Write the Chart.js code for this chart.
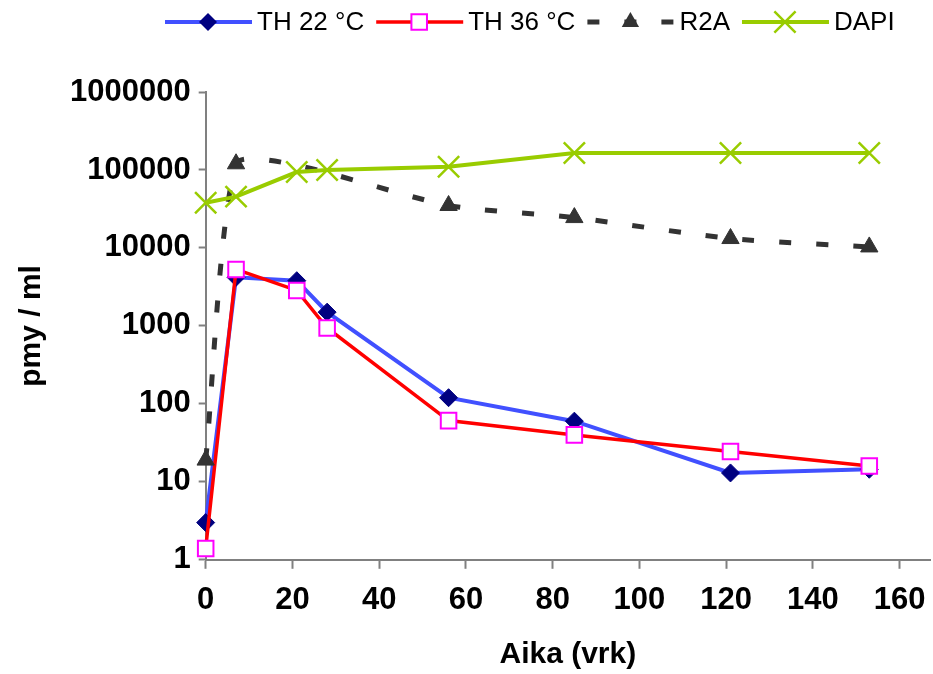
<!DOCTYPE html>
<html>
<head>
<meta charset="utf-8">
<script src="https://cdn.jsdelivr.net/npm/chart.js@4/dist/chart.umd.min.js"></script>
<style>
  html, body { margin: 0; padding: 0; background: #fff; }
  #wrap { width: 933px; height: 674px; }
</style>
</head>
<body>
<div id="wrap"><canvas id="bacteriaChart"></canvas></div>
<script>
// sampling days and counts (pmy / ml)
const days = [0, 7, 21, 28, 56, 85, 121, 153];
const th22 = [3, 4200, 3800, 1500, 120, 60, 13, 14.5];
const th36 = [1.4, 5300, 2850, 940, 61, 40, 24.5, 16];
const r2aDays = [0, 7, 21, 56, 85, 121, 153];
const r2a = [19, 120000, 115000, 35000, 24500, 13200, 10300];
const dapi = [38000, 45500, 94000, 100000, 110000, 165000, 165000, 165000];
const xTicks = [0, 20, 40, 60, 80, 100, 120, 140, 160];
const yTicks = [1, 10, 100, 1000, 10000, 100000, 1000000];
const names = ['TH 22 °C', 'TH 36 °C', 'R2A', 'DAPI'];

const FONT = "'Liberation Sans', Arial, sans-serif";

function toPoints(xs, ys) {
    return xs.map(function(x, i) { return { x: x, y: ys[i] }; });
}

function drawMarker(ctx, ds, x, y) {
    const r = ds.pointRadius;
    ctx.save();
    ctx.setLineDash([]);
    ctx.fillStyle = ds.pointBackgroundColor;
    ctx.strokeStyle = ds.pointBorderColor;
    ctx.lineWidth = ds.pointBorderWidth;
    ctx.beginPath();
    if (ds.pointStyle === 'rectRot') {
        ctx.moveTo(x, y - r); ctx.lineTo(x + r, y); ctx.lineTo(x, y + r); ctx.lineTo(x - r, y);
        ctx.closePath(); ctx.fill();
    } else if (ds.pointStyle === 'rect') {
        const s = r * Math.SQRT1_2;
        ctx.rect(x - s, y - s, 2 * s, 2 * s); ctx.fill(); ctx.stroke();
    } else if (ds.pointStyle === 'triangle') {
        ctx.moveTo(x, y - r); ctx.lineTo(x + r * 0.866, y + r / 2); ctx.lineTo(x - r * 0.866, y + r / 2);
        ctx.closePath(); ctx.fill();
    } else {
        const s = r * Math.SQRT1_2;
        ctx.moveTo(x - s, y - s); ctx.lineTo(x + s, y + s);
        ctx.moveTo(x + s, y - s); ctx.lineTo(x - s, y + s);
        ctx.stroke();
    }
    ctx.restore();
}

// Excel-style legend: short line with marker in the middle, then the name
const lineLegend = {
    id: 'lineLegend',
    afterDraw: function(chart) {
        const ctx = chart.ctx;
        const y = 22;
        let x = 165;
        ctx.save();
        ctx.font = '26px ' + FONT;
        ctx.textBaseline = 'middle';
        ctx.fillStyle = '#000';
        names.forEach(function(name) {
            const ds = chart.data.datasets.find(function(d) { return d.label === name; });
            ctx.save();
            ctx.strokeStyle = ds.borderColor;
            ctx.lineWidth = ds.borderWidth;
            ctx.setLineDash(ds.borderDash || []);
            ctx.beginPath();
            ctx.moveTo(x, y);
            ctx.lineTo(x + 87, y);
            ctx.stroke();
            ctx.restore();
            drawMarker(ctx, { pointRadius: ds.legendRadius, pointStyle: ds.pointStyle,
                pointBackgroundColor: ds.pointBackgroundColor, pointBorderColor: ds.pointBorderColor,
                pointBorderWidth: ds.pointBorderWidth }, x + 43, y);
            ctx.fillText(name, x + 92, y + 1);
            x += 92 + ctx.measureText(name).width + 12;
        });
        ctx.restore();
    }
};

document.addEventListener('DOMContentLoaded', function() {
    const ctx = document.getElementById('bacteriaChart').getContext('2d');
    const chart = new Chart(ctx, {
        type: 'line',
        data: {
            datasets: [{
                label: 'TH 22 °C',
                data: toPoints(days, th22),
                borderColor: '#4150ff',
                borderWidth: 4,
                pointStyle: 'rectRot',
                pointRadius: 9,
                legendRadius: 9,
                pointBackgroundColor: '#000080',
                pointBorderColor: '#000080',
                pointBorderWidth: 1,
                tension: 0,
                clip: false,
                order: 3
            }, {
                label: 'TH 36 °C',
                data: toPoints(days, th36),
                borderColor: '#ff0000',
                borderWidth: 3.5,
                pointStyle: 'rect',
                pointRadius: 11,
                legendRadius: 11,
                pointBackgroundColor: '#ffffff',
                pointBorderColor: '#ff00ff',
                pointBorderWidth: 2,
                tension: 0,
                clip: false,
                order: 2
            }, {
                label: 'R2A',
                data: toPoints(r2aDays, r2a),
                borderColor: '#333333',
                borderWidth: 5,
                borderDash: [12, 25],
                pointStyle: 'triangle',
                // the day-21 marker sits hidden under the DAPI cross in the original
                pointRadius: function(c) { return c.raw && c.raw.x === 21 ? 0 : 10; },
                legendRadius: 10,
                pointBackgroundColor: '#333333',
                pointBorderColor: '#333333',
                pointBorderWidth: 1,
                tension: 0.22,
                clip: false,
                order: 1
            }, {
                label: 'DAPI',
                data: toPoints(days, dapi),
                borderColor: '#99cc00',
                borderWidth: 4,
                pointStyle: 'crossRot',
                pointRadius: 15,
                legendRadius: 15,
                pointBackgroundColor: '#99cc00',
                pointBorderColor: '#99cc00',
                pointBorderWidth: 2.5,
                tension: 0,
                clip: false,
                order: 0
            }]
        },
        options: {
            responsive: true,
            maintainAspectRatio: false,
            animation: false,
            layout: {
                autoPadding: false,
                padding: { top: 92, right: 3, left: 14, bottom: 1 }
            },
            scales: {
                x: {
                    type: 'linear',
                    min: 0,
                    max: 167,
                    afterBuildTicks: function(s) {
                        s.ticks = xTicks.map(function(v) { return { value: v }; });
                    },
                    // axis runs on past the last label, so no room is needed for it
                    afterFit: function(s) { s.paddingRight = 0; },
                    ticks: {
                        font: { family: FONT, size: 31, weight: 'bold' },
                        color: '#000',
                        padding: 13,
                        maxRotation: 0
                    },
                    grid: {
                        display: true,
                        drawOnChartArea: false,
                        tickLength: 9,
                        tickColor: '#808080',
                        tickWidth: 2
                    },
                    border: { display: true, color: '#808080', width: 2 },
                    title: {
                        display: true,
                        text: 'Aika (vrk)',
                        font: { family: FONT, size: 30, weight: 'bold' },
                        color: '#000',
                        padding: { top: 5, bottom: 0 }
                    }
                },
                y: {
                    type: 'logarithmic',
                    min: 1,
                    max: 1000000,
                    afterBuildTicks: function(s) {
                        s.ticks = yTicks.map(function(v) { return { value: v }; });
                    },
                    ticks: {
                        font: { family: FONT, size: 31, weight: 'bold' },
                        color: '#000',
                        padding: 8,
                        callback: function(v) { return String(v); }
                    },
                    grid: {
                        display: true,
                        drawOnChartArea: false,
                        tickLength: 7,
                        tickColor: '#808080',
                        tickWidth: 2
                    },
                    border: { display: true, color: '#808080', width: 2 },
                    title: {
                        display: true,
                        text: 'pmy / ml',
                        font: { family: FONT, size: 30, weight: 'bold' },
                        color: '#000',
                        padding: { top: 0, bottom: 12 }
                    }
                }
            },
            plugins: {
                legend: { display: false },
                tooltip: { enabled: false }
            }
        },
        plugins: [lineLegend]
    });
});
</script>
</body>
</html>
